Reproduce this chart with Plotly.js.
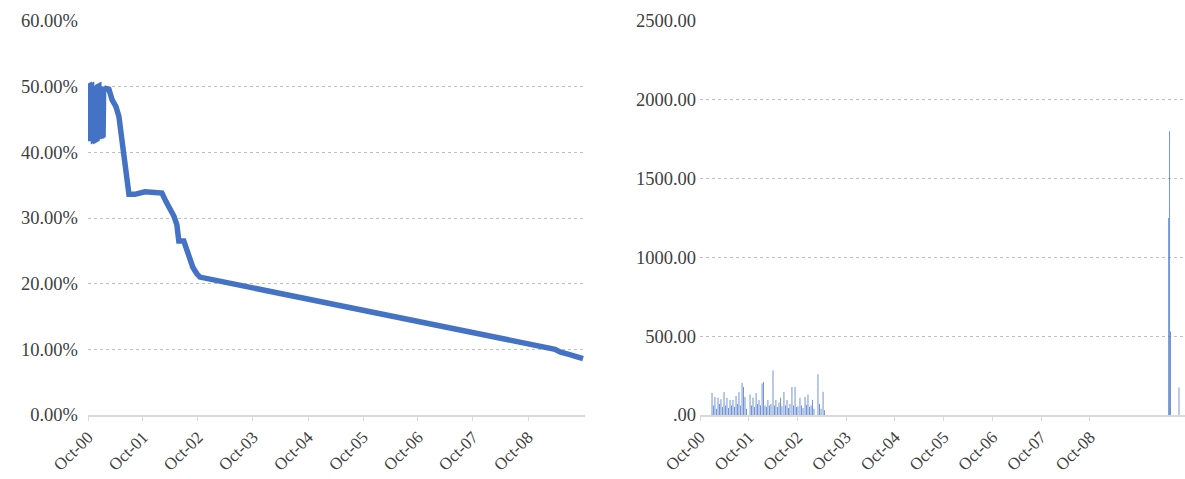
<!DOCTYPE html>
<html><head><meta charset="utf-8">
<script src="https://cdn.plot.ly/plotly-3.0.1.min.js"></script>
<style>html,body{margin:0;padding:0;background:#fff;} #chart{width:1185px;height:479px;}</style>
</head><body><div id="chart"></div>
<script>
// ---- left chart: rate series ----
const lineDates = [
  '2000-10-01','2000-10-05','2000-10-09','2000-10-13','2000-10-17','2000-10-21','2000-10-25','2000-10-29',
  '2000-11-02','2000-11-06','2000-11-10','2000-11-14','2000-11-18','2000-11-22','2000-11-26','2000-11-30',
  '2000-12-04','2000-12-08','2000-12-12','2000-12-16','2000-12-20','2000-12-24','2000-12-28',
  '2001-01-01','2001-01-05','2001-01-09','2001-01-13',
  '2001-01-15','2001-02-17','2001-03-10','2001-04-04','2001-04-24','2001-05-08','2001-05-21','2001-06-03',
  '2001-06-17','2001-06-30','2001-08-08','2001-10-14','2001-12-19','2002-02-04','2002-03-03','2002-03-29',
  '2002-04-24','2002-05-14','2002-05-27','2002-06-29','2002-07-13','2002-08-02','2002-08-28','2002-09-24',
  '2002-10-14','2009-03-29','2009-05-01','2009-07-05','2009-10-01'
];
const lineValues = [
  0.500,0.418,0.501,0.417,0.500,0.419,0.501,0.418,
  0.500,0.419,0.500,0.420,0.501,0.419,0.500,0.420,
  0.500,0.421,0.501,0.420,0.500,0.422,0.500,
  0.421,0.500,0.423,0.500,
  0.498,0.496,0.480,0.470,0.455,0.430,0.405,0.375,
  0.345,0.336,0.336,0.340,0.339,0.338,0.325,0.315,
  0.303,0.290,0.265,0.265,0.255,0.240,0.225,0.215,
  0.210,0.100,0.096,0.092,0.086
];

// ---- right chart: bar series ----
const barDates = [
  '2000-12-30','2001-01-10','2001-01-21','2001-02-02','2001-02-13','2001-02-24','2001-03-07','2001-03-19',
  '2001-03-30','2001-04-10','2001-04-21','2001-05-03','2001-05-14','2001-05-25','2001-06-05','2001-06-16',
  '2001-06-28','2001-07-09','2001-07-20','2001-07-31','2001-08-12','2001-08-23','2001-09-03','2001-09-14',
  '2001-10-11','2001-10-22','2001-11-02','2001-11-13','2001-11-25','2001-12-06','2001-12-17','2001-12-28',
  '2002-01-09','2002-01-20','2002-01-31','2002-02-11','2002-02-22','2002-03-06','2002-03-17','2002-04-01',
  '2002-04-12','2002-04-23','2002-05-05','2002-05-16','2002-05-27','2002-06-07','2002-06-22','2002-07-04',
  '2002-07-15','2002-07-26','2002-08-06','2002-08-21','2002-09-01','2002-09-13','2002-09-24','2002-10-05',
  '2002-10-20','2002-10-31','2002-11-12','2002-11-27','2002-12-08','2002-12-19','2002-12-30','2003-01-11',
  '2003-01-22','2003-02-02','2003-03-04','2003-03-15','2003-03-27','2003-04-11','2003-04-22',
  '2010-05-14','2010-05-21','2010-05-28','2010-07-30'
];
const barValues = [
  140,60,115,40,110,70,100,50,
  146,60,110,45,95,60,95,50,
  120,70,146,60,203,178,115,40,
  130,60,110,50,140,70,95,60,
  200,210,60,50,95,60,70,282,
  60,95,50,80,110,55,146,60,
  95,45,70,178,60,178,50,55,
  110,60,45,114,65,130,50,60,
  95,40,258,70,40,148,30,
  1250,1800,530,175
];

// ---- axes ----
const xTickDates = ['2000-10-01','2001-10-01','2002-10-01','2003-10-01','2004-10-01','2005-10-01','2006-10-01','2007-10-01','2008-10-01'];
const xTickLabels = ['Oct-00','Oct-01','Oct-02','Oct-03','Oct-04','Oct-05','Oct-06','Oct-07','Oct-08'];
const leftTickVals = [0,0.1,0.2,0.3,0.4,0.5,0.6];
const rightTickVals = [0,500,1000,1500,2000,2500];
const rightTickLabels = ['.00','500.00','1000.00','1500.00','2000.00','2500.00'];

const W = 1185, H = 479;
const blue = '#4472C4';
const fam = '"Liberation Serif", "Times New Roman", serif';
const xFont = {family: fam, size: 17, color: '#404040'};
const yFont = {family: fam, size: 18.5, color: '#404040'};

const yDom = [(H - 415) / H, (H - 21) / H];

const xCommon = {
  type: 'date', showgrid: false, zeroline: false,
  showline: true, linecolor: '#D9D9D9', linewidth: 1.5,
  ticks: 'outside', ticklen: 4, tickcolor: '#D9D9D9', tickwidth: 1,
  tickmode: 'array', tickvals: xTickDates, ticktext: xTickLabels,
  tickangle: -45, tickfont: xFont, fixedrange: true
};
const yCommon = {
  showgrid: true, gridcolor: '#BFBFBF', gridwidth: 1, griddash: 'dot',
  zeroline: false, showline: false, ticks: '', tickfont: yFont,
  fixedrange: true, domain: yDom
};

const traces = [
  {
    type: 'scatter', mode: 'lines', x: lineDates, y: lineValues,
    xaxis: 'x', yaxis: 'y',
    line: {color: blue, width: 5.5}, hoverinfo: 'skip'
  },
  {
    type: 'bar', x: barDates, y: barValues,
    xaxis: 'x2', yaxis: 'y2',
    marker: {color: blue, line: {width: 0}}, hoverinfo: 'skip'
  }
];

const layout = {
  width: W, height: H,
  margin: {l: 0, r: 0, t: 0, b: 0, pad: 0},
  paper_bgcolor: '#ffffff', plot_bgcolor: '#ffffff',
  showlegend: false, font: xFont,
  xaxis: Object.assign({}, xCommon, {domain: [88 / W, 585 / W], range: ['2000-10-01', '2009-10-14'], anchor: 'y'}),
  yaxis: Object.assign({}, yCommon, {range: [0, 0.6], tickmode: 'array', tickvals: leftTickVals, tickformat: '.2%', ticklabelstandoff: 9, anchor: 'x'}),
  xaxis2: Object.assign({}, xCommon, {domain: [700 / W, 1], range: ['2000-10-01', '2010-09-13'], anchor: 'y2'}),
  yaxis2: Object.assign({}, yCommon, {range: [0, 2500], tickmode: 'array', tickvals: rightTickVals, ticktext: rightTickLabels, ticklabelstandoff: 3, anchor: 'x2'}),
  bargap: 0.2
};

Plotly.newPlot('chart', traces, layout, {staticPlot: true, displayModeBar: false});
</script>
</body></html>
